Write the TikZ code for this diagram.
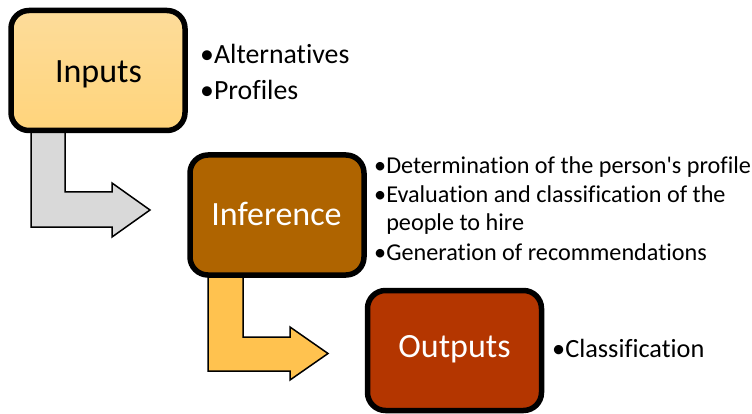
\documentclass[tikz,border=0pt]{standalone}
\usepackage{fontspec}
\setmainfont[Ligatures={NoCommon,TeXOff}]{Carlito}
\definecolor{inTop}{HTML}{FDDC9A}
\definecolor{inBot}{HTML}{FFD47B}
\definecolor{infFill}{HTML}{AF6400}
\definecolor{outFill}{HTML}{B43600}
\definecolor{grayArrow}{HTML}{D9D9D9}
\definecolor{yellowArrow}{HTML}{FFC24F}
\begin{document}
\begin{tikzpicture}[x=1pt,y=-1pt,
  stagebox/.style={draw=black, line width=5.5pt, rounded corners=18pt,
    minimum width=174pt, minimum height=120pt, inner sep=0pt},
  stagetext/.style={anchor=base, inner sep=0pt, font=\fontsize{34}{40}\selectfont},
  bendarrow/.style={draw=black, line width=1.5pt, line join=miter},
  bigitem/.style={anchor=base west, inner sep=0pt, font=\fontsize{27.8}{33}\selectfont},
  miditem/.style={anchor=base west, inner sep=0pt, font=\fontsize{24.2}{29}\selectfont},
  outitem/.style={anchor=base west, inner sep=0pt, font=\fontsize{26.3}{31}\selectfont}]
\useasboundingbox (0,0) rectangle (752,414);
% bent arrows (behind boxes)
\draw[bendarrow, fill=grayArrow] (31,128) -- (65,128) -- (65,192) -- (112,192) -- (112,183)
  -- (150,210) -- (112,237) -- (112,227) -- (31,227) -- cycle;
\draw[bendarrow, fill=yellowArrow] (208,272) -- (243,272) -- (243,337) -- (290,337) -- (290,327)
  -- (328,353.5) -- (290,380) -- (290,371) -- (208,371) -- cycle;
% boxes
\node[stagebox, top color=inTop, bottom color=inBot] (inputs) at (98,70.5) {};
\node[stagebox, fill=infFill] (inference) at (277,215) {};
\node[stagebox, fill=outFill] (outputs) at (454.5,350.5) {};
\node[stagetext] (inputsT) at (98.5,82.5) {Inputs};
\node[stagetext, text=white] (inferenceT) at (276.5,225.5) {Inference};
\node[stagetext, text=white] (outputsT) at (454.5,357.5) {Outputs};
% bullet texts
\node[bigitem] (alt) at (200,64) {•Alternatives};
\node[bigitem] (prof) at (200,100) {•Profiles};
\node[miditem] (det) at (374,174) {•Determination of the person's profile};
\node[miditem] (eval) at (374,203) {•Evaluation and classification of the};
\node[miditem] (hire) at (374,230.5) {\hphantom{•}people to hire};
\node[miditem] (gen) at (374,260) {•Generation of recommendations};
\node[outitem] (cls) at (552,357) {•Classification};
\end{tikzpicture}
\end{document}
